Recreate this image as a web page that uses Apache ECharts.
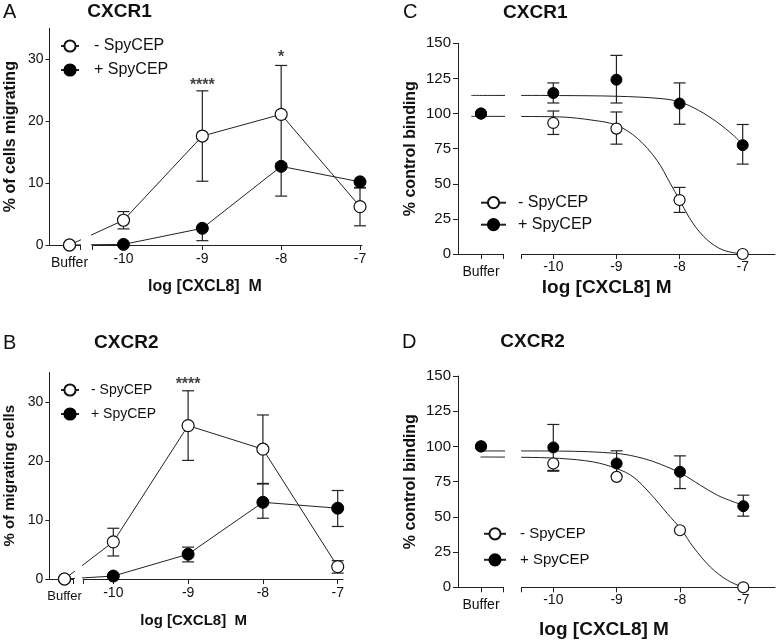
<!DOCTYPE html>
<html><head><meta charset="utf-8">
<script src="https://cdn.jsdelivr.net/npm/echarts@6/dist/echarts.min.js"></script>
<style>html,body{margin:0;padding:0;background:#fff}#c{width:777px;height:643px}</style>
</head><body><div id="c"></div><script>
const FONT = '"Liberation Sans", Arial, Helvetica, sans-serif';
const INK = '#111';
// x positions of the concentrations (log M); the first value of every series is the Buffer control
const logConc = [-10, -9, -8, -7];
const bufferLabel = 'Buffer';
const yTicksMig = [0, 10, 20, 30];
const legendNames = ['- SpyCEP', '+ SpyCEP'];

// Panel A: CXCR1 migration
const aOpen = [0, 4.0, 17.6, 21.1, 6.2];
const aOpenLo = [null, 2.6, 10.3, 13.2, 3.1];
const aOpenHi = [null, 5.4, 24.9, 29.0, 9.3];
const aFilled = [0, 0.1, 2.7, 12.7, 10.2];
const aFilledLo = [null, null, 0.7, 7.9, 9.2];
const aFilledHi = [null, null, null, null, null];
const aSigX = [-9, -8];
const aSigY = [25.8, 30.3];
const aSigText = ['****', '*'];

// Panel B: CXCR2 migration
const bOpen = [0, 6.3, 26.0, 22.0, 2.1];
const bOpenLo = [null, 3.9, 20.1, 16.2, 1.0];
const bOpenHi = [null, 8.6, 31.9, 27.8, 3.1];
const bFilled = [0, 0.5, 4.2, 13.0, 12.0];
const bFilledLo = [null, null, 2.9, 10.3, 8.9];
const bFilledHi = [null, null, 5.4, 16.1, 15.0];
const bSigX = [-9];
const bSigY = [32.9];
const bSigText = ['****'];

// Panel C: CXCR1 binding
const cOpen = [100, 93.3, 89.3, 38.4, 0];
const cOpenLo = [null, 85.1, 78.2, 29.6, null];
const cOpenHi = [null, 101.8, 101.1, 47.4, null];
const cFilled = [100, 114.6, 124.1, 107.1, 77.5];
const cFilledLo = [null, 107.5, 107.5, 92.4, 64.0];
const cFilledHi = [null, 121.8, 141.4, 121.8, 92.2];
const cOpenFitX = [-11.3, -10.5, -9.9, -9.37, -9, -8.67, -8.36, -8.15, -8, -7.79, -7.56, -7.31, -7];
const cOpenFitY = [98, 97.9, 97.6, 95.2, 91.7, 82.4, 66.8, 50.5, 38.4, 22, 10, 2.8, 0];
const cFilledFitX = [-11.3, -10.5, -9.9, -9, -8.31, -8, -7.7, -7.41, -7.15, -7];
const cFilledFitY = [112.9, 112.9, 112.8, 112.3, 110.7, 108.3, 102.3, 94, 84.6, 78];

// Panel D: CXCR2 binding
const dOpen = [100, 87.9, 78.4, 40.5, 0];
const dOpenLo = [null, 82.4, null, null, null];
const dOpenHi = [null, null, null, null, null];
const dFilled = [100, 99.3, 87.9, 82.0, 57.6];
const dFilledLo = [null, 83.0, 79.0, 70.1, 50.5];
const dFilledHi = [null, 115.6, 96.9, 93.3, 65.4];
const dOpenFitX = [-11.15, -10.5, -9.9, -9.37, -9, -8.74, -8.47, -8.2, -7.98, -7.79, -7.52, -7.25, -7];
const dOpenFitY = [92.5, 92.3, 91.5, 89, 84.3, 78.4, 66.6, 52.4, 41, 28.6, 14.4, 5, 0];
const dFilledFitX = [-11.15, -10.5, -9.9, -8.99, -8.58, -8.31, -7.98, -7.68, -7.41, -7.15, -7];
const dFilledFitY = [96.8, 96.8, 96.7, 95, 91.5, 87.4, 80.8, 72.5, 65.4, 60.6, 58.3];

const panels = [
  {open: aOpen, openLo: aOpenLo, openHi: aOpenHi, filled: aFilled, filledLo: aFilledLo, filledHi: aFilledHi,
   sigX: aSigX, sigY: aSigY, sigText: aSigText, connect: true,
   yMax: 35, yInterval: 10, yTicks: yTicksMig, yName: '% of cells migrating',
   letter: 'A', title: 'CXCR1', xName: 'log [CXCL8]  M',
   L: {top: 28.3, bottom: 245, axisPx: 49.5, bufPx: 69.5, bufEndPx: 80, mainStartPx: 92.3, mainEndPx: 362, px10: 123.5, px7: 360,
       sym: 12, tickFont: 14, bufFont: 14, xMargin: 7, bufMargin: 11, yFont: 14, yMargin: 6, yTickLen: 4, yNameSize: 16, yNameGap: 31,
       lgLeft: 60, lgTop: 38, lgW: 18, lgGap: 8, lgFont: 16, lgPad: 10,
       letterX: 3, letterY: 12, titleX: 119.5, titleY: 12, xNameX: 205, xNameY: 287, xNameSize: 16, sigFont: 16}},
  {open: bOpen, openLo: bOpenLo, openHi: bOpenHi, filled: bFilled, filledLo: bFilledLo, filledHi: bFilledHi,
   sigX: bSigX, sigY: bSigY, sigText: bSigText, connect: true,
   yMax: 35, yInterval: 10, yTicks: yTicksMig, yName: '% of migrating cells',
   letter: 'B', title: 'CXCR2', xName: 'log [CXCL8]  M',
   L: {top: 372.5, bottom: 579, axisPx: 49.3, bufPx: 64.5, bufEndPx: 73.5, mainStartPx: 83.3, mainEndPx: 343, px10: 113.3, px7: 337.7,
       sym: 12, tickFont: 14, bufFont: 13, xMargin: 7, bufMargin: 11, yFont: 14, yMargin: 6, yTickLen: 4, yNameSize: 15, yNameGap: 32,
       lgLeft: 60, lgTop: 383, lgW: 18, lgGap: 10, lgFont: 14, lgPad: 7,
       letterX: 3, letterY: 343, titleX: 126.3, titleY: 343, xNameX: 193.7, xNameY: 621, xNameSize: 15, sigFont: 16}},
  {open: cOpen, openLo: cOpenLo, openHi: cOpenHi, filled: cFilled, filledLo: cFilledLo, filledHi: cFilledHi,
   fitOpenX: cOpenFitX, fitOpenY: cOpenFitY, fitFilledX: cFilledFitX, fitFilledY: cFilledFitY, connect: false,
   yMax: 150, yInterval: 25, yTicks: null, yName: '% control binding',
   letter: 'C', title: 'CXCR1', xName: 'log [CXCL8] M',
   L: {top: 43.3, bottom: 254, axisPx: 458, bufPx: 481, bufEndPx: 503.5, mainStartPx: 521.7, mainEndPx: 775, px10: 553.3, px7: 742.7,
       sym: 11, tickFont: 14, bufFont: 14, xMargin: 6, bufMargin: 11, yFont: 15, yMargin: 7, yTickLen: 5, yNameSize: 16, yNameGap: 39,
       lgLeft: 480, lgTop: 194.7, lgW: 25, lgGap: 6, lgFont: 16, lgPad: 7,
       letterX: 403, letterY: 12, titleX: 535.3, titleY: 13, xNameX: 606.7, xNameY: 288, xNameSize: 19}},
  {open: dOpen, openLo: dOpenLo, openHi: dOpenHi, filled: dFilled, filledLo: dFilledLo, filledHi: dFilledHi,
   fitOpenX: dOpenFitX, fitOpenY: dOpenFitY, fitFilledX: dFilledFitX, fitFilledY: dFilledFitY, connect: false,
   yMax: 150, yInterval: 25, yTicks: null, yName: '% control binding',
   letter: 'D', title: 'CXCR2', xName: 'log [CXCL8] M',
   L: {top: 376, bottom: 587.3, axisPx: 458, bufPx: 481, bufEndPx: 503.5, mainStartPx: 521.7, mainEndPx: 775, px10: 553.3, px7: 743.3,
       sym: 11, tickFont: 14, bufFont: 14, xMargin: 6, bufMargin: 11, yFont: 15, yMargin: 7, yTickLen: 5, yNameSize: 16, yNameGap: 39,
       lgLeft: 483, lgTop: 526.3, lgW: 22, lgGap: 11, lgFont: 15, lgPad: 9,
       letterX: 402, letterY: 342, titleX: 532.5, titleY: 342, xNameX: 604, xNameY: 630, xNameSize: 19}}
];

const grid = [], xAxis = [], yAxis = [], series = [], legend = [], graphic = [];
const axisLineStyle = {color: '#222', width: 1};

function errRender(params, api) {
  const x = api.value(0), lo = api.value(1), hi = api.value(2), hasLo = api.value(3), hasHi = api.value(4);
  const pl = api.coord([x, lo]), ph = api.coord([x, hi]);
  const w = 6, st = {stroke: '#222', lineWidth: 1.2};
  const ch = [{type: 'line', shape: {x1: pl[0], y1: pl[1], x2: ph[0], y2: ph[1]}, style: st}];
  if (hasLo) ch.push({type: 'line', shape: {x1: pl[0] - w, y1: pl[1], x2: pl[0] + w, y2: pl[1]}, style: st});
  if (hasHi) ch.push({type: 'line', shape: {x1: ph[0] - w, y1: ph[1], x2: ph[0] + w, y2: ph[1]}, style: st});
  return {type: 'group', children: ch};
}

const openStyle = {color: '#fff', borderColor: '#111', borderWidth: 1.2, opacity: 1};
const filledStyle = {color: '#000', borderColor: '#000', borderWidth: 1, opacity: 1};

panels.forEach((p, i) => {
  const L = p.L;
  const unit = (L.px7 - L.px10) / 3;
  const val = px => -10 + (px - L.px10) / unit;
  const bufMin = val(L.axisPx), bufPos = val(L.bufPx), bufMax = val(L.bufEndPx);
  const mainMin = val(L.mainStartPx), mainMax = val(L.mainEndPx);
  const gb = i * 2, gm = i * 2 + 1;
  const h = L.bottom - L.top;
  grid.push({left: L.axisPx, top: L.top, width: L.bufEndPx - L.axisPx, height: h, outerBoundsMode: 'none', containLabel: false});
  grid.push({left: L.mainStartPx, top: L.top, width: L.mainEndPx - L.mainStartPx, height: h, outerBoundsMode: 'none', containLabel: false});
  xAxis.push({type: 'value', gridIndex: gb, min: bufMin, max: bufMax,
    axisLine: {show: true, onZero: false, lineStyle: axisLineStyle},
    axisTick: {show: true, length: 5, customValues: [bufPos, bufMax - 1e-6], lineStyle: axisLineStyle},
    axisLabel: {show: true, customValues: [bufPos], formatter: () => bufferLabel, fontSize: L.bufFont, fontFamily: FONT, color: INK, margin: L.bufMargin},
    splitLine: {show: false}});
  xAxis.push({type: 'value', gridIndex: gm, min: mainMin, max: mainMax,
    axisLine: {show: true, onZero: false, lineStyle: axisLineStyle},
    axisTick: {show: true, length: 5, customValues: [mainMin + 1e-6].concat(logConc), lineStyle: axisLineStyle},
    axisLabel: {show: true, customValues: logConc, formatter: v => String(v), fontSize: L.tickFont, fontFamily: FONT, color: INK, margin: L.xMargin},
    splitLine: {show: false}});
  const yTickCfg = {show: true, length: L.yTickLen, lineStyle: axisLineStyle};
  const yLabCfg = {show: true, fontSize: L.yFont, fontFamily: FONT, color: INK, margin: L.yMargin};
  if (p.yTicks) { yTickCfg.customValues = p.yTicks; yLabCfg.customValues = p.yTicks; }
  yAxis.push({type: 'value', gridIndex: gb, min: 0, max: p.yMax, interval: p.yInterval,
    axisLine: {show: true, lineStyle: axisLineStyle}, axisTick: yTickCfg, axisLabel: yLabCfg, splitLine: {show: false},
    name: p.yName, nameLocation: 'middle', nameGap: L.yNameGap,
    nameTextStyle: {fontSize: L.yNameSize, fontWeight: 'bold', fontFamily: FONT, color: INK}});
  yAxis.push({type: 'value', gridIndex: gm, min: 0, max: p.yMax, interval: p.yInterval, show: false});

  const xs = [bufPos].concat(logConc);
  const openG = {name: legendNames[0], v: p.open, lo: p.openLo, hi: p.openHi, style: openStyle, fx: p.fitOpenX, fy: p.fitOpenY};
  const filledG = {name: legendNames[1], v: p.filled, lo: p.filledLo, hi: p.filledHi, style: filledStyle, fx: p.fitFilledX, fy: p.fitFilledY};
  const groups = [openG, filledG];
  // draw order of the points: migration panels keep the open circles on top, binding panels the filled ones
  const drawOrder = p.connect ? [filledG, openG] : [openG, filledG];
  // fitted curves (C, D)
  groups.forEach((g, k) => {
    if (!g.fx) return;
    const d = g.fx.map((x, j) => [x, g.fy[j]]);
    [gb, gm].forEach(ax => series.push({type: 'line', name: 'fit' + i + k + ax, xAxisIndex: ax, yAxisIndex: ax, data: d,
      symbol: 'none', smooth: 0.35, clip: true, z: 2, silent: true,
      lineStyle: {color: '#222', width: 1}}));
  });
  // error bars
  groups.forEach((g, k) => {
    const d = [];
    logConc.forEach((x, j) => {
      const y = g.v[j + 1], lo = g.lo[j + 1], hi = g.hi[j + 1];
      if (lo == null && hi == null) return;
      d.push([x, lo == null ? y : lo, hi == null ? y : hi, lo == null ? 0 : 1, hi == null ? 0 : 1]);
    });
    series.push({type: 'custom', name: 'err' + i + k, xAxisIndex: gm, yAxisIndex: gm, data: d,
      encode: {x: 0, y: [1, 2]}, renderItem: errRender, z: 3, silent: true});
  });
  // points (for panel A, the open series is registered first so the legend icon is the open/filled line+circle)
  const order = i === 0 ? groups : drawOrder;
  order.forEach((g) => {
    const d = xs.map((x, j) => [x, g.v[j]]);
    const zz = (drawOrder.indexOf(g) === 1) ? 5 : 4;
    [gb, gm].forEach(ax => {
      if (p.connect) {
        series.push({type: 'line', name: g.name, xAxisIndex: ax, yAxisIndex: ax, data: d,
          symbol: 'circle', symbolSize: L.sym, showAllSymbol: true, clip: true, z: zz, silent: true,
          itemStyle: g.style, lineStyle: {color: '#222', width: 1}});
      } else {
        series.push({type: 'scatter', name: g.name, xAxisIndex: ax, yAxisIndex: ax, data: d,
          symbol: 'circle', symbolSize: L.sym, clip: true, z: zz, silent: true, itemStyle: g.style});
      }
    });
  });
  // significance marks
  if (p.sigX) {
    series.push({type: 'scatter', name: 'sig' + i, xAxisIndex: gm, yAxisIndex: gm,
      data: p.sigX.map((x, j) => ({value: [x, p.sigY[j]], name: p.sigText[j]})),
      symbolSize: 1, itemStyle: {color: 'rgba(0,0,0,0)'}, z: 6, silent: true,
      label: {show: true, position: 'inside', formatter: '{b}', fontSize: L.sigFont, fontWeight: 'bold', fontFamily: FONT, color: INK}});
  }
  legend.push({orient: 'vertical', left: L.lgLeft, top: L.lgTop, itemWidth: L.lgW, itemHeight: 14, itemGap: L.lgGap,
    data: legendNames, selectedMode: false, padding: 0,
    textStyle: {fontSize: L.lgFont, fontFamily: FONT, color: INK, padding: [0, 0, 0, L.lgPad]}});
  graphic.push({type: 'text', x: L.letterX, y: L.letterY, style: {text: p.letter, font: '20px ' + FONT, fill: INK, textAlign: 'left', textVerticalAlign: 'middle'}});
  graphic.push({type: 'text', x: L.titleX, y: L.titleY, style: {text: p.title, font: 'bold 19px ' + FONT, fill: INK, textAlign: 'center', textVerticalAlign: 'middle'}});
  graphic.push({type: 'text', x: L.xNameX, y: L.xNameY, style: {text: p.xName, font: 'bold ' + L.xNameSize + 'px ' + FONT, fill: INK, textAlign: 'center', textVerticalAlign: 'middle'}});
});

const chart = echarts.init(document.getElementById('c'), null, {renderer: 'canvas'});
chart.setOption({
  animation: false,
  backgroundColor: '#fff',
  textStyle: {fontFamily: FONT},
  grid, xAxis, yAxis, series, legend, graphic
});
</script></body></html>
